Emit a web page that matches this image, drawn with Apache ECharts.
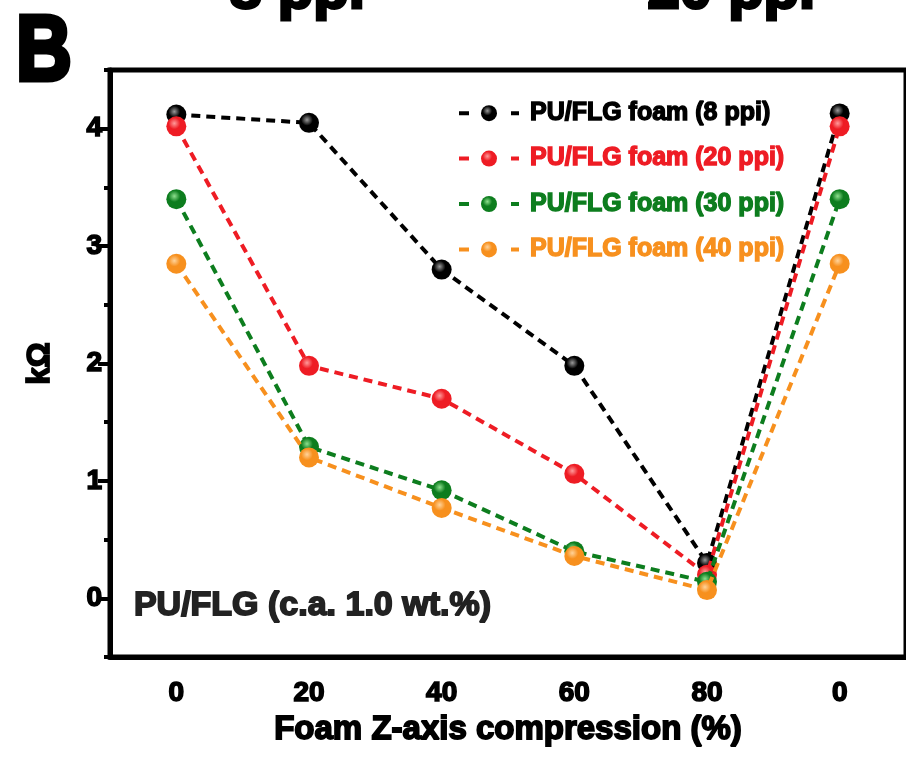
<!DOCTYPE html>
<html>
<head>
<meta charset="utf-8">
<title>PU/FLG foam resistance vs compression</title>
<script src="https://cdn.jsdelivr.net/npm/echarts@6/dist/echarts.min.js"></script>
<style>
  html, body { margin: 0; padding: 0; background: #fff; }
  #chart { width: 906px; height: 762px; }
</style>
</head>
<body>
<div id="chart"></div>
<script>
// Compression steps: load up to 80 % and release back to 0 %
const categories = ['0', '20', '40', '60', '80', '0'];

// Resistance (kΩ) of the foams at each compression step
const ppi8  = [4.12, 4.05, 2.80, 1.98, 0.30, 4.13];
const ppi20 = [4.02, 1.98, 1.70, 1.06, 0.20, 4.02];
const ppi30 = [3.40, 1.29, 0.92, 0.40, 0.14, 3.40];
const ppi40 = [2.85, 1.20, 0.77, 0.36, 0.07, 2.85];

const seriesNames = [
  'PU/FLG foam (8 ppi)',
  'PU/FLG foam (20 ppi)',
  'PU/FLG foam (30 ppi)',
  'PU/FLG foam (40 ppi)'
];
const seriesColors = ['#000000', '#ee1c24', '#0d7d1e', '#f7901e'];
const seriesHighlights = ['#9a9a9a', '#ff9a9a', '#8ee08e', '#ffd39a'];

const yMajorTicks = [0, 1, 2, 3, 4];
const yMinorTicks = [-0.5, 0.5, 1.5, 2.5, 3.5, 4.5];

const FONT = '"Liberation Sans", Arial, sans-serif';
const heavy = (size, color, bw) => ({
  fontFamily: FONT, fontWeight: 'bold', fontSize: size, color: color,
  textBorderColor: color, textBorderWidth: bw == null ? 1.6 : bw
});

function sphere(base, light) {
  return {
    type: 'radial', x: 0.4, y: 0.35, r: 0.65,
    colorStops: [
      { offset: 0, color: light },
      { offset: 0.45, color: base },
      { offset: 1, color: base }
    ]
  };
}

const allValues = [ppi8, ppi20, ppi30, ppi40];
const series = allValues.map((vals, i) => ({
  name: seriesNames[i],
  type: 'line',
  data: vals,
  symbol: 'circle',
  symbolSize: 20,
  z: 2 + i,
  lineStyle: { color: seriesColors[i], width: 4, type: [9, 6] },
  itemStyle: { color: sphere(seriesColors[i], seriesHighlights[i]) }
}));

const chart = echarts.init(document.getElementById('chart'), null, { renderer: 'canvas' });
chart.setOption({
  backgroundColor: '#ffffff',
  animation: false,
  grid: {
    left: 110, right: -2, top: 70, bottom: 105,
    show: true, borderColor: '#000', borderWidth: 5, backgroundColor: 'transparent'
  },
  legend: {
    orient: 'vertical',
    left: 452, top: 95,
    itemWidth: 60, itemHeight: 20, itemGap: 19,
    lineStyle: { type: [10, 42], width: 4 },
    textStyle: { padding: [0, 0, 0, 6] },
    data: seriesNames.map((n, i) => ({
      name: n,
      textStyle: heavy(25, seriesColors[i], 1.4)
    }))
  },
  xAxis: {
    type: 'category',
    data: categories,
    boundaryGap: true,
    axisLine: { onZero: false, lineStyle: { color: '#000', width: 5 } },
    axisTick: { alignWithLabel: true, length: 10, lineStyle: { color: '#000', width: 4 } },
    axisLabel: Object.assign({ margin: 22 }, heavy(28, '#000')),
    name: 'Foam Z-axis compression (%)',
    nameLocation: 'middle',
    nameGap: 50,
    nameTextStyle: heavy(33, '#000', 1.8),
    splitLine: { show: false }
  },
  yAxis: [{
    type: 'value',
    min: -0.5, max: 4.5,
    position: 'left',
    axisLine: { show: true, lineStyle: { color: '#000', width: 5 } },
    axisTick: { show: true, customValues: yMajorTicks, length: 12, lineStyle: { color: '#000', width: 4 } },
    axisLabel: Object.assign({ customValues: yMajorTicks, margin: 8 }, heavy(28, '#000')),
    splitLine: { show: false },
    name: 'kΩ',
    nameLocation: 'middle',
    nameRotate: 90,
    nameGap: 54,
    nameTextStyle: heavy(31, '#000', 1.8)
  }, {
    type: 'value',
    min: -0.5, max: 4.5,
    position: 'left',
    axisLine: { show: false },
    axisTick: { show: true, customValues: yMinorTicks, length: 6, lineStyle: { color: '#000', width: 4 } },
    axisLabel: { show: false },
    splitLine: { show: false }
  }],
  graphic: [
    { type: 'text', x: 16, y: 9, scaleX: 0.84, style: { text: 'B', fill: '#000', stroke: '#000', lineWidth: 5, font: 'bold 92px ' + FONT, verticalAlign: 'top' } },
    { type: 'text', left: 228, top: -39, style: { text: '8 ppi', fill: '#000', stroke: '#000', lineWidth: 3, font: 'bold 58px ' + FONT } },
    { type: 'text', left: 646, top: -39, style: { text: '20 ppi', fill: '#000', stroke: '#000', lineWidth: 3, font: 'bold 58px ' + FONT } },
    { type: 'text', left: 133, top: 588, style: { text: 'PU/FLG (c.a. 1.0 wt.%)', fill: '#222', stroke: '#222', lineWidth: 1.8, font: 'bold 34px ' + FONT } }
  ],
  series: series
});
</script>
</body>
</html>
